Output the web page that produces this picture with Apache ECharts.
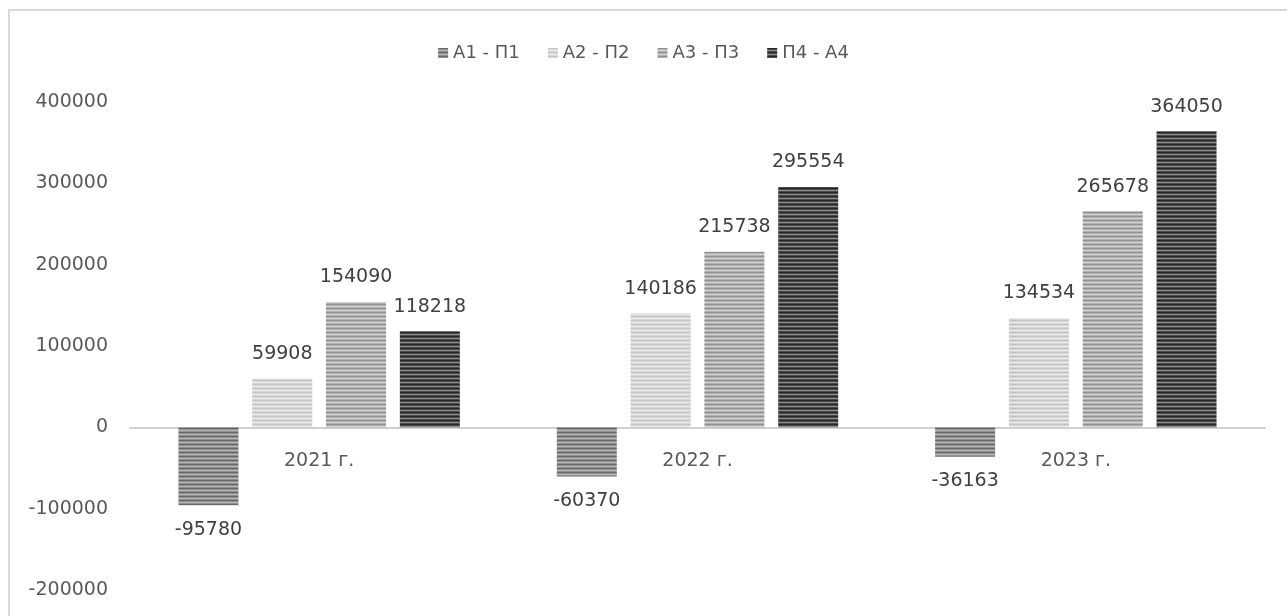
<!DOCTYPE html>
<html>
<head>
<meta charset="utf-8">
<script src="https://cdn.jsdelivr.net/npm/echarts@6/dist/echarts.min.js"></script>
<style>
  html, body { margin: 0; padding: 0; background: #fff; }
  #chart { width: 1287px; height: 616px; }
</style>
</head>
<body>
<div id="chart"></div>
<script>
// Liquidity gaps by year (assets group minus liabilities group)
const categories = ['2021 г.', '2022 г.', '2023 г.'];
const seriesNames = ['А1 - П1', 'А2 - П2', 'А3 - П3', 'П4 - А4'];
const a1p1 = [-95780, -60370, -36163];
const a2p2 = [59908, 140186, 134534];
const a3p3 = [154090, 215738, 265678];
const p4a4 = [118218, 295554, 364050];
const yTicks = [-200000, -100000, 0, 100000, 200000, 300000, 400000];

// Horizontal stripe fill: rows cycle dark / mid / light / mid
function stripes(dark, mid, light) {
  const c = document.createElement('canvas');
  c.width = 4; c.height = 4;
  const ctx = c.getContext('2d');
  const rows = [dark, mid, light, mid];
  rows.forEach((col, i) => { ctx.fillStyle = col; ctx.fillRect(0, i, 4, 1); });
  return { image: c, repeat: 'repeat' };
}

const fills = [
  stripes('#6a6a6a', '#8e8e8e', '#b8b8b8'),
  stripes('#c4c4c4', '#d6d6d6', '#ebebeb'),
  stripes('#929292', '#b0b0b0', '#d2d2d2'),
  stripes('#262626', '#4c4c4c', '#8a8a8a')
];

const values = [a1p1, a2p2, a3p3, p4a4];

const chart = echarts.init(document.getElementById('chart'), null, { renderer: 'canvas' });

const labelFont = { fontFamily: 'DejaVu Sans', fontSize: 19, color: '#404040' };

const barSeries = seriesNames.map((name, i) => ({
  name: name,
  type: 'bar',
  barWidth: 60,
  barGap: '23%',
  itemStyle: { color: fills[i] },
  label: {
    show: true,
    distance: 15,
    ...labelFont,
    formatter: p => String(p.value)
  },
  data: values[i].map(v => ({
    value: v,
    label: { position: v < 0 ? 'bottom' : 'top' }
  }))
}));

// Category names sit just under the zero line, as on a crossing axis
const categoryLabels = {
  type: 'scatter',
  symbolSize: 0,
  silent: true,
  z: 5,
  itemStyle: { opacity: 1 },
  label: {
    show: true,
    position: 'bottom',
    distance: 24,
    fontFamily: 'DejaVu Sans',
    fontSize: 19,
    color: '#595959',
    opacity: 1,
    formatter: p => p.name
  },
  data: categories.map(c => ({ name: c, value: [c, 0] }))
};

chart.setOption({
  animation: false,
  backgroundColor: '#ffffff',
  textStyle: { fontFamily: 'DejaVu Sans' },
  graphic: [{
    type: 'rect',
    shape: { x: 9, y: 10, width: 1300, height: 700 },
    style: { fill: 'none', stroke: '#d9d9d9', lineWidth: 2 },
    silent: true
  }],
  legend: {
    data: seriesNames,
    top: 39,
    left: 'center',
    itemWidth: 10,
    itemHeight: 10,
    itemGap: 28,
    icon: 'rect',
    textStyle: { fontFamily: 'DejaVu Sans', fontSize: 18, color: '#595959' }
  },
  grid: { left: 130, right: 22, top: 102, bottom: 26, containLabel: false, outerBoundsMode: 'none' },
  xAxis: {
    type: 'category',
    data: categories,
    axisLine: { onZero: true, lineStyle: { color: '#d0d0d0', width: 2 } },
    axisTick: { show: false },
    axisLabel: { show: false }
  },
  yAxis: {
    type: 'value',
    min: yTicks[0],
    max: yTicks[yTicks.length - 1],
    interval: 100000,
    axisLine: { show: false },
    axisTick: { show: false },
    splitLine: { show: false },
    axisLabel: {
      margin: 22,
      fontFamily: 'DejaVu Sans',
      fontSize: 19,
      color: '#595959',
      formatter: v => String(v)
    }
  },
  series: [...barSeries, categoryLabels]
});
</script>
</body>
</html>
